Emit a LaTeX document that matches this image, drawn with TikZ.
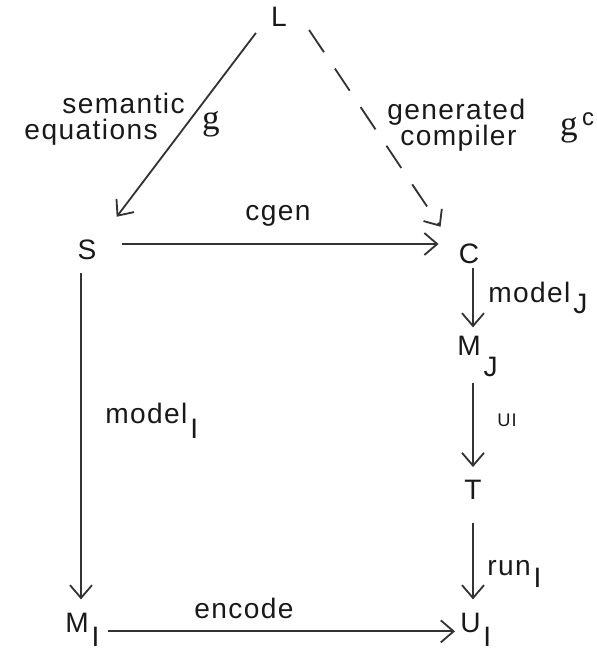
\documentclass[tikz,border=0pt]{standalone}
\usepackage{fontspec}
\setmainfont{Liberation Sans}[LetterSpace=5]
\newfontfamily\gfont{Liberation Serif}
\usetikzlibrary{arrows.meta, calc, positioning}

% lowered index letter, as typed on the original
\newcommand{\low}[2][12pt]{\hspace{2pt}\raisebox{-#1}{#2}}
\newcommand{\scg}{{\gfont\fontsize{25}{26}\selectfont g}}

\begin{document}
\begin{tikzpicture}[x=0.025cm, y=-0.025cm,
  every node/.style={font=\fontsize{20}{22}\selectfont, text=black!90, inner sep=0pt},
  arr/.style={-{Straight Barb[length=3.2mm, width=5.5mm]}, line width=1.3pt, draw=black!80},
  small/.style={font=\fontsize{13}{14}\selectfont}]
\useasboundingbox (0,0) rectangle (597,652);

% Languages and semantics
\node (L) at (279,17) {L};
\node (S) at (87,250) {S};
\node (C) at (469,254) {C};

% Machines and target code
\node[anchor=base west] (MJ) at (457,355) {M\low[15pt]{J}};
\node (T) at (473,490) {T};
\node[anchor=base west] (MI) at (65,632) {M\low[10pt]{I}};
\node[anchor=base west] (UI) at (460,632) {U\low[10pt]{I}};

% Arrows
\draw[arr] ($(L.south west)+(-15,6)$) -- ($(S.north east)+(20,-23)$);
\draw[arr, dash pattern=on 19pt off 14pt] ($(L.south east)+(22,3)$) -- ($(C.north west)+(-18,-17)$);
\draw[arr] ($(S.east)+(25,-6)$) -- ($(S.east -| C.west)+(-20,-6)$);
\draw[arr] ($(C.south)+(4,4)$) -- ($(C.south |- MJ.north)+(4,-8)$);
\draw[arr] ($(C.south |- MJ.south)+(4,6)$) -- ($(C.south |- T.north)+(4,-13)$);
\draw[arr] ($(C.south |- T.south)+(4,23)$) -- ($(C.south |- UI.north)+(4,-13)$);
\draw[arr] ($(S.south)+(-6,13)$) -- ($(S.south |- MI.north)+(-6,-13)$);
\draw[arr] ($(MI.east)+(8,2)$) -- ($(MI.east -| UI.west)+(-5,2)$);

% Labels
\node[anchor=base east] (sem) at (185,113) {semantic};
\node[anchor=base east] (equ) at (158,139) {equations};
\node (gs) at (211,124) {\scg};
\node[anchor=base west] (gen) at (387,119) {generated};
\node[anchor=base west] (comp) at (400,145) {compiler};
\node (gc) at (569,130) {\scg};
\node[font=\fontsize{17}{18}\selectfont] (gcs) at (588,119) {c};
\node[anchor=base] (cgen) at (278,220) {cgen};
\node[anchor=base west] (modJ) at (488,302) {model\low[8pt]{J}};
\node[small] (ui) at (507,420) {UI};
\node[anchor=base west] (modI) at (105,423) {model\low[11pt]{I}};
\node[anchor=base west] (run) at (487,575) {run\low[9pt]{I}};
\node[anchor=base] (enc) at (244,618) {encode};
\end{tikzpicture}
\end{document}
